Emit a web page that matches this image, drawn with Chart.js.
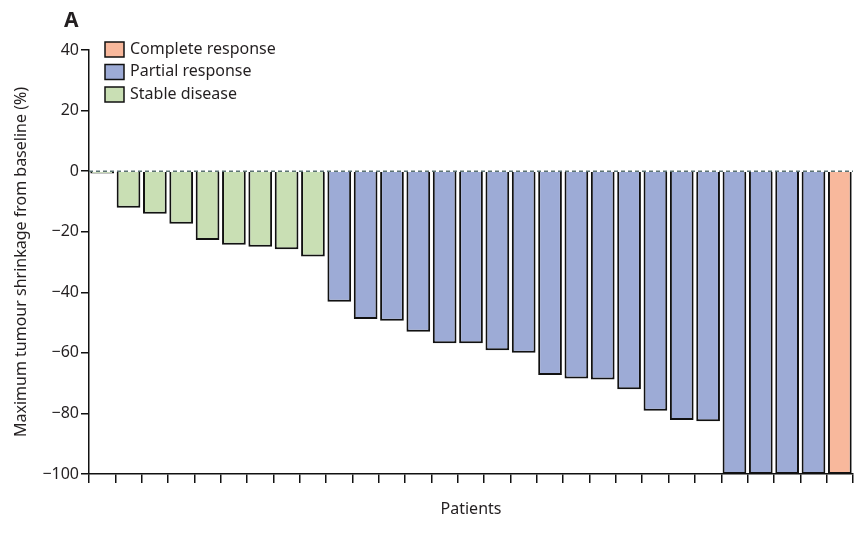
<!DOCTYPE html>
<html lang="en">
<head>
    <meta charset="UTF-8">
    <title>Waterfall - tumour shrinkage</title>
    <script src="https://cdn.jsdelivr.net/npm/chart.js"></script>
    <style>
        body { margin: 0; background: #ffffff; }
        #wrap { width: 865px; height: 536px; }
    </style>
</head>
<body>
<div id="wrap">
    <canvas id="waterfallChart" width="865" height="536"></canvas>
</div>

<script>
    // data (one bar per patient)
    const shrinkage = [
        -0.8, -12.1, -14.1, -17.4, -22.7, -24.3, -25, -25.8, -28.2,
        -43.1, -48.8, -49.4, -53, -56.8, -56.8, -59.1, -60, -67.3, -68.5, -68.8,
        -72, -79.1, -82.2, -82.6, -100, -100, -100, -100,
        -100
    ];
    const response = [
        "SD", "SD", "SD", "SD", "SD", "SD", "SD", "SD", "SD",
        "PR", "PR", "PR", "PR", "PR", "PR", "PR", "PR", "PR", "PR", "PR",
        "PR", "PR", "PR", "PR", "PR", "PR", "PR", "PR",
        "CR"
    ];
    const patients = shrinkage.map((v, i) => "Patient " + (i + 1));

    const responseKeys = ["CR", "PR", "SD"];
    const responseLabels = ["Complete response", "Partial response", "Stable disease"];
    const responseColors = ["#f8b89c", "#9dabd6", "#c9dfb4"];

    const yTicks = [-100, -80, -60, -40, -20, 0, 20, 40];

    const textColor = "#231f20";
    const fontFamily = "'Noto Sans', 'DejaVu Sans', sans-serif";

    function colorOf(r) {
        return responseColors[responseKeys.indexOf(r)];
    }

    // dashed zero line, legend and panel letter
    const extras = {
        id: "extras",
        afterDatasetsDraw(chart) {
            const { ctx, chartArea, scales } = chart;
            const y0 = scales.y.getPixelForValue(0);
            ctx.save();
            ctx.strokeStyle = "#5b7272";
            ctx.lineWidth = 1.5;
            ctx.setLineDash([4, 3]);
            ctx.beginPath();
            ctx.moveTo(chartArea.left, y0);
            ctx.lineTo(chartArea.right, y0);
            ctx.stroke();
            ctx.restore();
        },
        afterDraw(chart) {
            const ctx = chart.ctx;
            ctx.save();
            // legend
            ctx.font = "16px " + fontFamily;
            ctx.textBaseline = "middle";
            responseLabels.forEach((lab, i) => {
                const y = 49 + i * 22.5;
                ctx.fillStyle = responseColors[i];
                ctx.fillRect(105, y - 7, 19, 15);
                ctx.strokeStyle = "#111";
                ctx.lineWidth = 1.5;
                ctx.strokeRect(105, y - 7, 19, 15);
                ctx.fillStyle = textColor;
                ctx.fillText(lab, 130, y);
            });
            // panel letter
            ctx.font = "bold 21px " + fontFamily;
            ctx.textBaseline = "alphabetic";
            ctx.fillText("A", 64, 27);
            ctx.restore();
        }
    };

    const ctx = document.getElementById("waterfallChart").getContext("2d");
    new Chart(ctx, {
        type: "bar",
        data: {
            labels: patients,
            datasets: [{
                label: "Maximum tumour shrinkage",
                data: shrinkage,
                backgroundColor: response.map(colorOf),
                borderColor: "#111111",
                borderWidth: 2,
                borderSkipped: "start",
                barPercentage: 0.9,
                categoryPercentage: 1.0
            }]
        },
        options: {
            responsive: false,
            animation: false,
            layout: { padding: { left: 12, right: 12, top: 50, bottom: 0 } },
            plugins: {
                legend: { display: false },
                tooltip: { enabled: false }
            },
            scales: {
                x: {
                    offset: true,
                    grid: {
                        offset: true,
                        drawOnChartArea: false,
                        drawTicks: true,
                        tickLength: 9,
                        color: "#111",
                        lineWidth: 1.5
                    },
                    border: { display: true, color: "#111", width: 1.5 },
                    ticks: { display: false },
                    title: {
                        display: true,
                        text: "Patients",
                        color: textColor,
                        font: { family: fontFamily, size: 16 },
                        padding: { top: 0, bottom: 17 }
                    },
                    afterFit(scale) { scale.height = 62; }
                },
                y: {
                    min: -100,
                    max: 40,
                    afterBuildTicks(scale) {
                        scale.ticks = yTicks.map(v => ({ value: v }));
                    },
                    grid: {
                        drawOnChartArea: false,
                        drawTicks: true,
                        tickLength: 8,
                        color: "#111",
                        lineWidth: 1.5
                    },
                    border: { display: true, color: "#111", width: 1.5 },
                    ticks: {
                        color: textColor,
                        padding: 2,
                        font: { family: fontFamily, size: 16 },
                        callback: v => (v < 0 ? "\u2212" + Math.abs(v) : String(v))
                    },
                    title: {
                        display: true,
                        text: "Maximum tumour shrinkage from baseline (%)",
                        color: textColor,
                        font: { family: fontFamily, size: 16 },
                        padding: 0
                    },
                    afterFit(scale) { scale.width = 77; }
                }
            }
        },
        plugins: [extras]
    });
</script>
</body>
</html>
